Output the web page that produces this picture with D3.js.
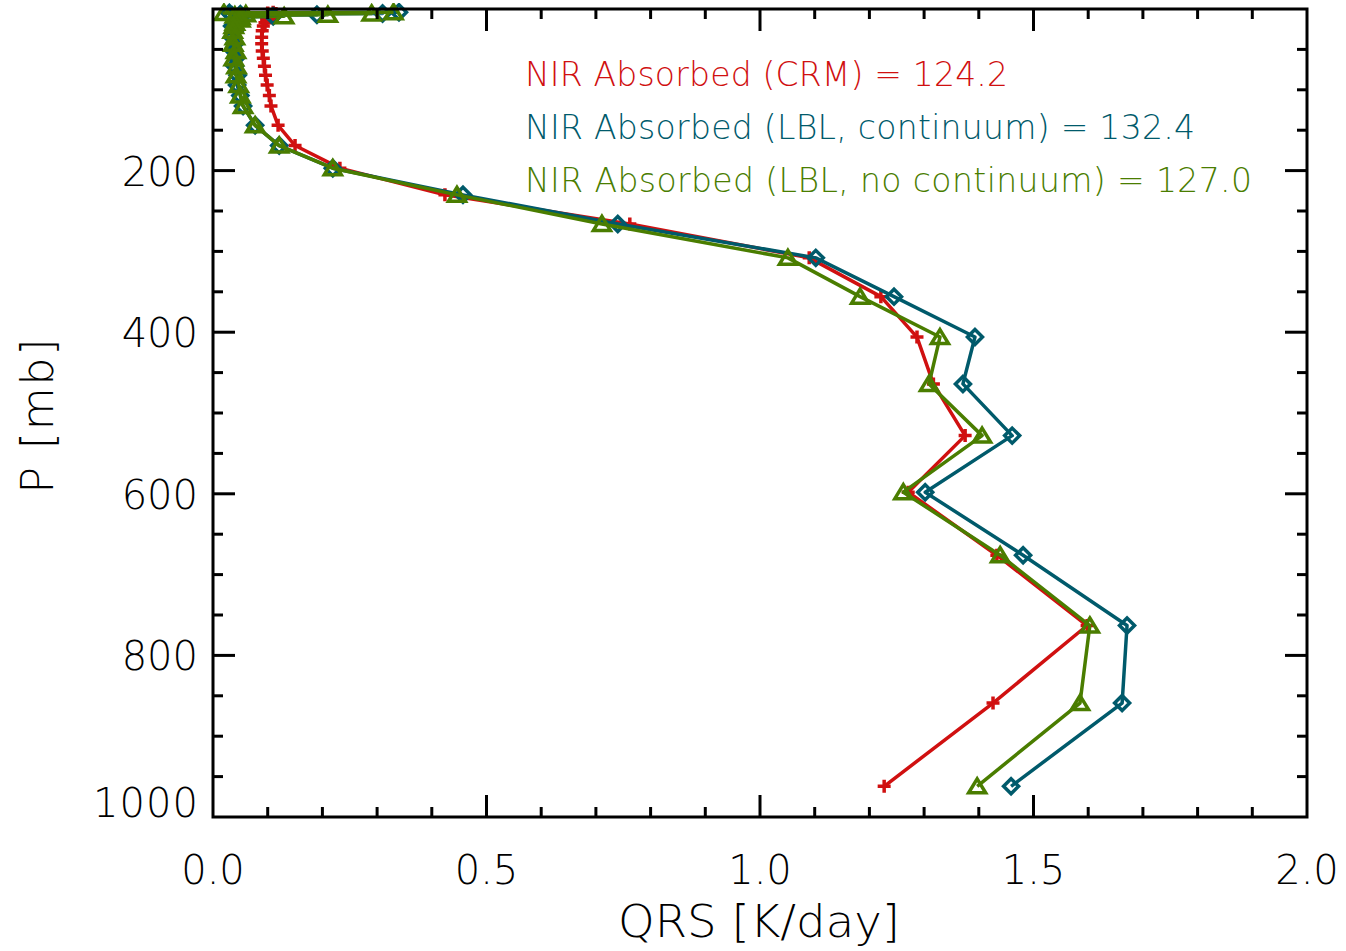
<!DOCTYPE html>
<html>
<head>
<meta charset="utf-8">
<script src="https://cdn.jsdelivr.net/npm/d3@7"></script>
<style>
  html, body { margin: 0; padding: 0; background: #fff; }
  svg { display: block; }
  text { font-family: "DejaVu Sans", sans-serif; font-weight: 200; }
</style>
</head>
<body>
<svg id="chart" width="1346" height="951"></svg>
<script>
// Pressure levels (mb), top of atmosphere to surface
const pressure = [4, 4.8, 5.6, 6.4, 7.2, 8, 9, 10, 13, 17, 21, 27, 35, 43, 52, 61, 71, 82, 94, 107,
  120, 144, 169, 197, 230, 266, 308, 356, 406, 464, 528, 598, 676, 763, 859, 962];

// Shortwave heating rates QRS (K/day) at each level
const qrsCRM = [0.11, 0.10, 0.115, 0.10, 0.11, 0.10, 0.105, 0.100, 0.098, 0.095, 0.092, 0.090, 0.089, 0.089,
  0.090, 0.092, 0.094, 0.096, 0.099, 0.103, 0.106, 0.119, 0.150, 0.232, 0.424, 0.762, 1.090, 1.221,
  1.287, 1.317, 1.375, 1.271, 1.433, 1.598, 1.426, 1.227];
const qrsLBLcont = [0.34, 0.03, 0.31, 0.05, 0.19, 0.035, 0.11, 0.05, 0.045, 0.040, 0.035, 0.040, 0.035, 0.040,
  0.038, 0.042, 0.040, 0.045, 0.044, 0.050, 0.055, 0.077, 0.121, 0.219, 0.457, 0.740, 1.102, 1.245,
  1.393, 1.371, 1.461, 1.302, 1.481, 1.671, 1.662, 1.459];
const qrsLBLnocont = [0.33, 0.02, 0.29, 0.06, 0.21, 0.04, 0.13, 0.05, 0.050, 0.040, 0.038, 0.036, 0.040, 0.037,
  0.042, 0.038, 0.043, 0.042, 0.047, 0.050, 0.055, 0.077, 0.121, 0.219, 0.446, 0.711, 1.051, 1.183,
  1.329, 1.309, 1.406, 1.262, 1.439, 1.603, 1.585, 1.397];

const legendLabels = [
  "NIR Absorbed (CRM) = 124.2",
  "NIR Absorbed (LBL, continuum) = 132.4",
  "NIR Absorbed (LBL, no continuum) = 127.0"
];
const xTickLabels = ["0.0", "0.5", "1.0", "1.5", "2.0"];
const yTickLabels = ["200", "400", "600", "800", "1000"];

const colors = ["#d01010", "#005a6b", "#4a7d00"];

const svg = d3.select("#chart");
const plotLeft = 213, plotRight = 1307, plotTop = 9, plotBottom = 817;

const x = d3.scaleLinear().domain([0, 2]).range([plotLeft, plotRight]);
const y = d3.scaleLinear().domain([0, 1000]).range([plotTop, plotBottom]);

const plot = svg.append("g");
svg.append("clipPath").attr("id", "clip")
  .append("rect").attr("x", plotLeft).attr("y", plotTop - 6)
  .attr("width", plotRight - plotLeft).attr("height", plotBottom - plotTop + 6);

// Marker shapes: plus, diamond, triangle
const markerPaths = [
  "M-6.5,0H6.5M0,-6.5V6.5",
  "M0,-7.5L7.5,0L0,7.5L-7.5,0Z",
  "M0,-7.5L8.5,6.5L-8.5,6.5Z"
];

const seriesList = [qrsCRM, qrsLBLcont, qrsLBLnocont];
const line = d3.line().x(d => x(d[0])).y(d => y(d[1]));

seriesList.forEach((vals, i) => {
  const pts = vals.map((v, k) => [v, pressure[k]]);
  const g = plot.append("g").attr("clip-path", "url(#clip)");
  g.append("path").datum(pts)
    .attr("d", line)
    .attr("fill", "none")
    .attr("stroke", colors[i])
    .attr("stroke-width", 3.5)
    .attr("stroke-linejoin", "round");
  g.selectAll("path.mk").data(pts).join("path")
    .attr("class", "mk")
    .attr("transform", d => `translate(${x(d[0])},${y(d[1])})`)
    .attr("d", markerPaths[i])
    .attr("fill", "none")
    .attr("stroke", colors[i])
    .attr("stroke-width", 3.5);
});

// Frame and inward ticks
const axisG = svg.append("g").attr("stroke", "#000").attr("stroke-width", 3).attr("fill", "none");
axisG.append("rect").attr("x", plotLeft).attr("y", plotTop)
  .attr("width", plotRight - plotLeft).attr("height", plotBottom - plotTop);

const major = 22, minor = 10;
d3.range(1, 20).forEach(k => {
  const v = k / 10;
  const len = (k % 5 === 0) ? major : minor;
  axisG.append("line").attr("x1", x(v)).attr("x2", x(v)).attr("y1", plotBottom).attr("y2", plotBottom - len);
  axisG.append("line").attr("x1", x(v)).attr("x2", x(v)).attr("y1", plotTop).attr("y2", plotTop + len);
});
d3.range(1, 20).forEach(k => {
  const v = k * 50;
  const len = (k % 4 === 0) ? major : minor;
  axisG.append("line").attr("y1", y(v)).attr("y2", y(v)).attr("x1", plotLeft).attr("x2", plotLeft + len);
  axisG.append("line").attr("y1", y(v)).attr("y2", y(v)).attr("x1", plotRight).attr("x2", plotRight - len);
});

// Tick labels
svg.selectAll("text.xt").data(xTickLabels).join("text")
  .attr("class", "xt")
  .attr("x", d => x(+d))
  .attr("y", 884)
  .attr("text-anchor", "middle")
  .attr("font-size", 40)
  .attr("fill", "#000")
  .text(d => d);

// the bottom label is nudged up so it stays clear of the x-axis labels
svg.selectAll("text.yt").data(yTickLabels).join("text")
  .attr("class", "yt")
  .attr("x", 198)
  .attr("y", d => Math.min(y(+d) + 15, plotBottom))
  .attr("text-anchor", "end")
  .attr("font-size", 40)
  .attr("fill", "#000")
  .attr("textLength", d => d.length === 4 ? 105 : null)
  .text(d => d);

// Axis titles
svg.append("text")
  .attr("x", 759).attr("y", 937)
  .attr("text-anchor", "middle")
  .attr("font-size", 44)
  .attr("fill", "#000")
  .attr("textLength", 282)
  .attr("lengthAdjust", "spacingAndGlyphs")
  .text("QRS [K/day]");

svg.append("text")
  .attr("transform", "translate(53,416) rotate(-90)")
  .attr("text-anchor", "middle")
  .attr("font-size", 44)
  .attr("fill", "#000")
  .attr("textLength", 155)
  .text("P [mb]");

// Legend text
const legendEnds = [1008, 1195, 1252];
legendLabels.forEach((t, i) => {
  svg.append("text")
    .attr("x", 525).attr("y", 86 + i * 53)
    .attr("font-size", 33)
    .attr("fill", colors[i])
    .attr("textLength", legendEnds[i] - 525)
    .attr("lengthAdjust", "spacing")
    .text(t);
});
</script>
</body>
</html>
